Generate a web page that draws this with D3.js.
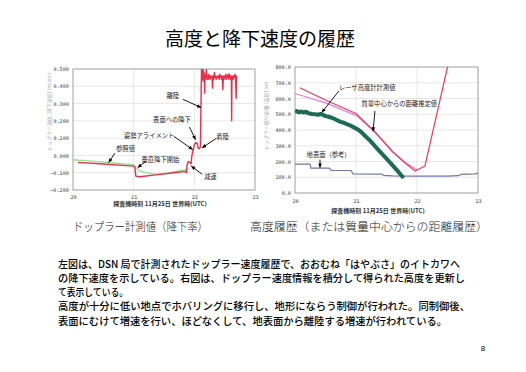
<!DOCTYPE html>
<html><head><meta charset="utf-8">
<script src="https://cdn.jsdelivr.net/npm/d3@7"></script>
<style>
html,body{margin:0;padding:0;background:#fff;}
svg{display:block;}
</style></head>
<body>
<svg id="c" width="526" height="372"></svg>
<script>
// ---------- data ----------
const titleText = "高度と降下速度の履歴";
const xTicks = [20, 21, 22, 23];
const leftYTicks = [0.5, 0.4, 0.3, 0.2, 0.1, 0.0, -0.1, -0.2];
const rightYTicks = [800, 700, 600, 500, 400, 300, 200, 100, 0];
const xAxisTitle = "探査機時刻  11月25日 世界時(UTC)";
const leftYTitle = "ドップラー速度 [降下速度] (m/sec)";
const rightYTitle = "ドップラー積分距離 [高度] (m)";
const leftCaption = "ドップラー計測値（降下率）";
const rightCaption = "高度履歴（または質量中心からの距離履歴）";

// left chart: reference (green) and measured doppler (red)
const dopplerReference = [[20.0,-0.025],[20.3,-0.033],[20.6,-0.041],[20.9,-0.05],[21.0,-0.054],[21.03,-0.07],[21.1,-0.09],[21.2,-0.1],[21.3,-0.106],[21.4,-0.109],[21.55,-0.103],[21.7,-0.093],[21.85,-0.082],[21.9,-0.079]];
const dopplerMeasured = [[20.08,-0.04],[20.5,-0.05],[21.0,-0.062],[21.02,-0.066],[21.035,-0.12],[21.1,-0.123],[21.4,-0.111],[21.7,-0.099],[21.85,-0.092],[21.87,-0.1],[21.88,-0.055],[21.9,-0.035],[21.93,-0.042],[21.945,-0.05],[21.96,0.0],[21.98,0.03],[22.0,0.06],[22.02,0.074],[22.05,0.07],[22.06,0.045],[22.08,0.038],[22.1,0.05],[22.11,0.3],[22.12,0.56],[22.125,0.44],[22.13,0.52],[22.135,0.45],[22.14,0.54],[22.145,0.43],[22.15,0.49],[22.155,0.44],[22.16,0.48],[22.165,0.45],[22.17,0.36],[22.175,0.46],[22.18,0.44],[22.19,0.47],[22.2,0.5],[22.21,0.44],[22.22,0.46],[22.23,0.44],[22.24,0.47],[22.25,0.45],[22.26,0.44],[22.27,0.46],[22.28,0.45],[22.29,0.46],[22.3,0.39],[22.31,0.46],[22.32,0.44],[22.33,0.48],[22.34,0.45],[22.35,0.46],[22.36,0.44],[22.38,0.46],[22.39,0.45],[22.4,0.46],[22.41,0.44],[22.42,0.47],[22.43,0.45],[22.44,0.46],[22.45,0.44],[22.46,0.46],[22.47,0.38],[22.48,0.46],[22.49,0.44],[22.5,0.46],[22.51,0.45],[22.52,0.47],[22.53,0.44],[22.54,0.46],[22.55,0.45],[22.56,0.47],[22.57,0.44],[22.58,0.47],[22.59,0.45],[22.6,0.44],[22.61,0.46],[22.615,0.2],[22.62,0.45],[22.63,0.46],[22.64,0.44],[22.65,0.46],[22.66,0.45],[22.67,0.47],[22.68,0.44],[22.69,0.33],[22.695,0.46],[22.7,0.45]];

// right chart
const massCenterDistance = [[20.08,668],[20.5,590],[21.0,505],[21.3,392],[21.6,262],[21.8,192],[21.97,140],[22.13,172],[22.3,460],[22.5,800],[22.56,900]];
const dopplerAltitude = [[20.0,632],[20.5,572],[21.0,493],[21.3,392],[21.6,262],[21.8,195],[22.0,147]];
const laserAltimeter = [[20.0,515],[20.03,520],[20.07,512],[20.1,518],[20.14,511],[20.18,516],[20.22,506],[20.28,502],[20.33,500],[20.38,497],[20.42,502],[20.46,496],[20.5,488],[20.55,484],[20.6,478],[20.65,470],[20.7,460],[20.75,452],[20.8,446],[20.85,437],[20.9,430],[20.95,420],[21.0,410],[21.05,398],[21.1,382],[21.15,362],[21.22,337],[21.3,303],[21.4,260],[21.5,218],[21.6,175],[21.7,132],[21.78,95]];
const surfaceRef = [[20.0,183],[20.25,183],[20.26,158],[20.56,158],[20.6,143],[20.92,143],[20.95,122],[21.42,120],[21.45,112],[21.6,109],[22.0,107],[22.5,107],[22.68,110],[22.72,118],[22.95,121],[23.0,126]];

// annotations [text, textX(data), textBaselineY(data), arrowFrom(data), arrowTo(data)]
const leftNotes = [
  ["離陸", 21.54, 0.33, [21.81,0.325], [22.11,0.277]],
  ["表面への降下", 21.32, 0.196, [21.92,0.164], [22.02,0.092]],
  ["姿勢アライメント", 20.84, 0.10, [21.66,0.111], [21.97,0.035]],
  ["着陸", 22.36, 0.095, [22.36,0.098], [22.13,0.045]],
  ["参照値", 20.71, 0.027, [20.69,0.013], [20.59,-0.04]],
  ["垂直降下開始", 21.13, -0.037, [21.2,-0.034], [21.07,-0.07]],
  ["減速", 22.16, -0.138, [22.13,-0.109], [21.95,-0.062]]
];
const rightNotes = [
  ["レーザ高度計計測値", 20.72, 655, [20.72,648], [20.44,512]],
  ["質量中心からの距離推定値", 21.09, 550, [21.31,520], [21.28,392]],
  ["地表面（参考）", 20.19, 228, [20.41,212], [20.41,162]]
];

const bodyLines = [
  "左図は、DSN 局で計測されたドップラー速度履歴で、おおむね「はやぶさ」のイトカワへ",
  "の降下速度を示している。右図は、ドップラー速度情報を積分して得られた高度を更新し",
  "て表示している。",
  "高度が十分に低い地点でホバリングに移行し、地形にならう制御が行われた。同制御後、",
  "表面にむけて増速を行い、ほどなくして、地表面から離陸する増速が行われている。"
];
const pageNumber = "8";

// ---------- drawing ----------
const svg = d3.select("#c");
const JP = "'Noto Sans CJK JP','Noto Sans',sans-serif";
const defs = svg.append("defs");
defs.append("marker").attr("id","arr").attr("viewBox","0 0 10 10").attr("refX",9).attr("refY",5)
  .attr("markerWidth",5).attr("markerHeight",5).attr("orient","auto")
  .append("path").attr("d","M0,1 L10,5 L0,9 z").attr("fill","#000");

svg.append("text").attr("x",260).attr("y",46).attr("text-anchor","middle")
  .attr("font-family",JP).attr("font-size",19).attr("fill","#000").text(titleText);

function chart(opt){
  const g = svg.append("g");
  const x = d3.scaleLinear().domain([20,23]).range([opt.l,opt.r]);
  const y = d3.scaleLinear().domain(opt.ydom).range([opt.b,opt.t]);
  const cid = "clip"+opt.id;
  defs.append("clipPath").attr("id",cid).append("rect")
    .attr("x",opt.l).attr("y",opt.t).attr("width",opt.r-opt.l).attr("height",opt.b-opt.t);
  // grid
  g.append("g").selectAll("line").data(opt.yt).join("line")
    .attr("x1",opt.l).attr("x2",opt.r).attr("y1",d=>y(d)).attr("y2",d=>y(d))
    .attr("stroke","#d8d8d8").attr("stroke-width",0.6);
  g.append("g").selectAll("line").data(xTicks).join("line")
    .attr("y1",opt.t).attr("y2",opt.b).attr("x1",d=>x(d)).attr("x2",d=>x(d))
    .attr("stroke","#d8d8d8").attr("stroke-width",0.6);
  // axes with d3
  const ya = g.append("g").attr("transform",`translate(${opt.l},0)`)
    .call(d3.axisLeft(y).tickValues(opt.yt).tickFormat(opt.fmt).tickSize(0).tickPadding(4));
  const xa = g.append("g").attr("transform",`translate(0,${opt.b})`)
    .call(d3.axisBottom(x).tickValues(xTicks).tickFormat(d3.format("d")).tickSize(0).tickPadding(opt.xpad));
  [ya,xa].forEach(a=>{
    a.select(".domain").remove();
    a.selectAll("text").attr("font-family","'DejaVu Sans Mono',monospace").attr("font-size",5.2)
      .attr("font-weight","bold").attr("fill","#777");
  });
  // frame
  g.append("rect").attr("x",opt.l).attr("y",opt.t).attr("width",opt.r-opt.l).attr("height",opt.b-opt.t)
    .attr("fill","none").attr("stroke","#999").attr("stroke-width",0.8);
  // series
  const line = d3.line().x(d=>x(d[0])).y(d=>y(d[1]));
  const sg = g.append("g").attr("clip-path",`url(#${cid})`);
  opt.series.forEach(s=>{
    sg.append("path").datum(s.data).attr("d",line).attr("fill","none")
      .attr("stroke",s.color).attr("stroke-width",s.w).attr("stroke-linejoin","round");
  });
  // notes
  opt.notes.forEach(n=>{
    g.append("text").attr("x",x(n[1])).attr("y",y(n[2])).attr("font-family",JP)
      .attr("font-size",6.3).attr("fill","#222").text(n[0]);
    g.append("line").attr("x1",x(n[3][0])).attr("y1",y(n[3][1])).attr("x2",x(n[4][0])).attr("y2",y(n[4][1]))
      .attr("stroke","#000").attr("stroke-width",0.9).attr("marker-end","url(#arr)");
  });
  // axis titles
  g.append("text").attr("x",opt.xtx).attr("y",opt.xty).attr("text-anchor","middle")
    .attr("font-family",JP).attr("font-size",6).attr("font-weight","bold").attr("fill","#333").text(xAxisTitle);
  g.append("text").attr("transform",`translate(${opt.ytx},${opt.yty}) rotate(-90)`).attr("text-anchor","middle")
    .attr("font-family",JP).attr("font-size",5).attr("fill","#aaa").text(opt.ytitle);
  g.append("text").attr("x",opt.capx).attr("y",231).attr("font-family",JP)
    .attr("font-size",11.5).attr("font-weight",300).attr("fill","#222")
    .attr("textLength",opt.capw).attr("lengthAdjust","spacingAndGlyphs").text(opt.cap);
}

chart({id:"L", l:73, r:255, t:69, b:190, ydom:[-0.2,0.5], yt:leftYTicks, fmt:d3.format(".3f"), xpad:5,
  series:[{data:dopplerReference,color:"#8ee68e",w:1.3},{data:dopplerMeasured,color:"#e8304a",w:1.4}],
  notes:leftNotes, xtx:160, xty:206, ytx:51, yty:112, ytitle:leftYTitle, cap:leftCaption, capx:73, capw:135});

chart({id:"R", l:295, r:478, t:67, b:193, ydom:[0,800], yt:rightYTicks, fmt:d3.format(".1f"), xpad:6,
  series:[{data:surfaceRef,color:"#7474ac",w:1.2},{data:dopplerAltitude,color:"#e27ee0",w:1.2},
          {data:laserAltimeter,color:"#1b6b55",w:4},{data:massCenterDistance,color:"#ea3a5a",w:1.2}],
  notes:rightNotes, xtx:378, xty:213, ytx:268, yty:116, ytitle:rightYTitle, cap:rightCaption, capx:250, capw:238});

// body text
const bodyY = [267.5, 281.8, 296.1, 310.4, 324.9];
const bodyW = [402, 407, 70, 412, 389];
svg.append("g").selectAll("text").data(bodyLines).join("text")
  .attr("x",58).attr("y",(d,i)=>bodyY[i]).attr("font-family",JP).attr("font-size",10.4)
  .attr("font-weight",500).attr("fill","#000")
  .attr("textLength",(d,i)=>bodyW[i]).attr("lengthAdjust","spacingAndGlyphs").text(d=>d);
svg.append("text").attr("x",483).attr("y",351).attr("text-anchor","middle")
  .attr("font-family","'Liberation Sans',Arial,sans-serif").attr("font-size",8).attr("fill","#000").text(pageNumber);
</script>
</body></html>
